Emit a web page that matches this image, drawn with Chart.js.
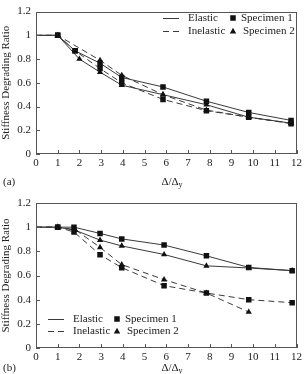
<!DOCTYPE html>
<html>
<head>
<meta charset="utf-8">
<script src="https://cdn.jsdelivr.net/npm/chart.js@4/dist/chart.umd.min.js"></script>
<style>
html,body{margin:0;padding:0;background:#fff;}
#wrap{position:relative;width:305px;height:374px;}
canvas{position:absolute;left:0;}
</style>
</head>
<body>
<div id="wrap">
<canvas id="cA" width="305" height="190" style="top:0px"></canvas>
<canvas id="cB" width="305" height="184" style="top:190px"></canvas>
</div>
<script>
// ---------- data: panel (a) ----------
const aElasticS1X = [0, 1, 1.8, 2.95, 3.95, 5.85, 7.85, 9.8, 11.75];
const aElasticS1Y = [1, 1, 0.87, 0.765, 0.645, 0.565, 0.445, 0.35, 0.283];
const aElasticS2X = [0, 1, 2, 2.95, 3.95, 5.85, 7.85, 9.8, 11.75];
const aElasticS2Y = [1, 1, 0.80, 0.69, 0.58, 0.50, 0.415, 0.31, 0.26];
const aInelasticS1X = [0, 1, 1.8, 2.95, 3.95, 5.85, 7.85, 9.8, 11.75];
const aInelasticS1Y = [1, 1, 0.87, 0.72, 0.60, 0.46, 0.365, 0.31, 0.256];
const aInelasticS2X = [0, 1, 2.95, 3.95, 5.85, 7.85, 9.8, 11.75];
const aInelasticS2Y = [1, 1, 0.79, 0.663, 0.50, 0.37, 0.31, 0.26];

// ---------- data: panel (b) ----------
const bElasticS1X = [0, 1, 1.75, 2.95, 3.95, 5.9, 7.85, 9.8, 11.8];
const bElasticS1Y = [1, 1, 1.0, 0.948, 0.903, 0.852, 0.763, 0.667, 0.64];
const bElasticS2X = [0, 1, 1.8, 2.95, 3.95, 5.9, 7.85, 9.8, 11.8];
const bElasticS2Y = [1, 1, 0.975, 0.893, 0.845, 0.774, 0.68, 0.662, 0.64];
const bInelasticS1X = [0, 1, 1.75, 2.95, 3.95, 5.9, 7.85, 9.8, 11.8];
const bInelasticS1Y = [1, 1, 0.96, 0.772, 0.665, 0.516, 0.455, 0.40, 0.375];
const bInelasticS2X = [0, 1, 1.8, 2.95, 3.95, 5.9, 7.85, 9.8];
const bInelasticS2Y = [1, 1, 0.98, 0.833, 0.69, 0.566, 0.455, 0.298];

// ---------- axes / labels ----------
const xTicks = [0,1,2,3,4,5,6,7,8,9,10,11,12];
const yTicks = [0, 0.2, 0.4, 0.6, 0.8, 1, 1.2];
const yTitle = 'Stiffness Degrading Ratio';
const xTitleMain = 'Δ/Δ';
const xTitleSub = 'y';
const legendLines = ['Elastic', 'Inelastic'];
const legendMarkers = ['Specimen 1', 'Specimen 2'];

const FONT = "'Liberation Serif', 'Times New Roman', serif";
const LINE = '#3a3a3a';
const MARK = '#111';

function pts(xs, ys){ return xs.map((x,i)=>({x:x, y:ys[i]})); }
function ds(xs, ys, dashed, style){
  return {
    data: pts(xs, ys),
    borderColor: LINE, borderWidth: 1, borderDash: dashed ? [6,4] : [],
    pointStyle: style,
    pointRadius: xs.map(x => x === 0 ? 0 : (style === 'rect' ? 3.9 : 3.6)),
    pointBackgroundColor: MARK, pointBorderColor: MARK, pointBorderWidth: 0,
    showLine: true, tension: 0, order: style === 'rect' ? 0 : 1
  };
}

function decorPlugin(cfg){
  return {
    id: 'decor',
    afterDraw(chart){
      const ctx = chart.ctx, ca = chart.chartArea;
      const xs = chart.scales.x, ys = chart.scales.y;
      ctx.save();
      // frame
      ctx.strokeStyle = '#555'; ctx.lineWidth = 1; ctx.setLineDash([]);
      ctx.strokeRect(Math.round(ca.left)+0.5, Math.round(ca.top)+0.5, Math.round(ca.right-ca.left)-1, Math.round(ca.bottom-ca.top)-1);
      // inward ticks
      ctx.beginPath();
      xTicks.forEach(v => { const px = Math.round(xs.getPixelForValue(v))+0.5; ctx.moveTo(px, ca.bottom); ctx.lineTo(px, ca.bottom-4); });
      yTicks.forEach(v => { const py = Math.round(ys.getPixelForValue(v))+0.5; ctx.moveTo(ca.left, py); ctx.lineTo(ca.left+4, py); });
      ctx.stroke();
      // x title with subscript
      ctx.fillStyle = '#222';
      ctx.textBaseline = 'middle';
      ctx.font = '11px ' + FONT;
      const wMain = ctx.measureText(xTitleMain).width;
      ctx.font = '8px ' + FONT;
      const wSub = ctx.measureText(xTitleSub).width;
      let x0 = cfg.xTitleX - (wMain + wSub)/2;
      ctx.font = '11px ' + FONT; ctx.textAlign = 'left';
      ctx.fillText(xTitleMain, x0, cfg.xTitleY);
      ctx.font = '8px ' + FONT;
      ctx.fillText(xTitleSub, x0 + wMain, cfg.xTitleY + 3);
      // panel label
      ctx.font = '11px ' + FONT;
      ctx.fillText(cfg.panel, 3, cfg.xTitleY);
      // legend
      const L = cfg.legend;
      ctx.strokeStyle = LINE; ctx.lineWidth = 1;
      [0,1].forEach(i => {
        const y = L.y + i*L.dy;
        ctx.setLineDash(i ? [6,4] : []);
        ctx.beginPath(); ctx.moveTo(L.lineX, y+0.5); ctx.lineTo(L.lineX + 16, y+0.5); ctx.stroke();
        ctx.setLineDash([]);
        ctx.fillStyle = '#222';
        ctx.fillText(legendLines[i], L.textX, y);
        ctx.fillStyle = MARK;
        const mx = L.markX;
        if (i === 0) { ctx.fillRect(mx-2.75, y-2.75, 5.5, 5.5); }
        else { ctx.beginPath(); ctx.moveTo(mx, y-3.2); ctx.lineTo(mx+3.2, y+2.5); ctx.lineTo(mx-3.2, y+2.5); ctx.closePath(); ctx.fill(); }
        ctx.fillStyle = '#222';
        ctx.fillText(legendMarkers[i], L.mtextX + i*2, y);
      });
      ctx.restore();
    }
  };
}

function makeChart(id, datasets, padTop, xAxisH, cfg){
  return new Chart(document.getElementById(id), {
    type: 'scatter',
    data: { datasets },
    options: {
      responsive: false, animation: false, devicePixelRatio: 1,
      layout: { padding: { top: padTop, right: 3, left: 0, bottom: 0 } },
      plugins: { legend: { display: false }, tooltip: { enabled: false } },
      scales: {
        x: {
          type: 'linear', min: 0, max: 12,
          afterBuildTicks: s => { s.ticks = xTicks.map(v => ({ value: v })); },
          ticks: { font: { family: FONT, size: 11 }, color: '#222', padding: 3, maxRotation: 0, autoSkip: false },
          grid: { display: false, drawTicks: false }, border: { display: false },
          afterFit: s => { s.height = xAxisH; }
        },
        y: {
          min: 0, max: 1.2,
          afterBuildTicks: s => { s.ticks = yTicks.map(v => ({ value: v })); },
          ticks: { font: { family: FONT, size: 11 }, color: '#222', padding: 5, callback: v => String(+(+v).toFixed(1)) },
          grid: { display: false, drawTicks: false }, border: { display: false },
          title: { display: true, text: yTitle, font: { family: FONT, size: 11 }, color: '#222', padding: { top: 0, bottom: 0 } },
          afterFit: s => { s.width = 36; }
        }
      }
    },
    plugins: [decorPlugin(cfg)]
  });
}

makeChart('cA', [
  ds(aElasticS1X, aElasticS1Y, false, 'rect'),
  ds(aElasticS2X, aElasticS2Y, false, 'triangle'),
  ds(aInelasticS1X, aInelasticS1Y, true, 'rect'),
  ds(aInelasticS2X, aInelasticS2Y, true, 'triangle')
], 9, 36, { panel: '(a)', xTitleX: 172, xTitleY: 182,
  legend: { y: 18, dy: 13, lineX: 163, textX: 188, markX: 233, mtextX: 241 } });

makeChart('cB', [
  ds(bElasticS1X, bElasticS1Y, false, 'rect'),
  ds(bElasticS2X, bElasticS2Y, false, 'triangle'),
  ds(bInelasticS1X, bInelasticS1Y, true, 'rect'),
  ds(bInelasticS2X, bInelasticS2Y, true, 'triangle')
], 13, 26, { panel: '(b)', xTitleX: 172, xTitleY: 178,
  legend: { y: 129, dy: 12, lineX: 48, textX: 73, markX: 117, mtextX: 125 } });
</script>
</body>
</html>
